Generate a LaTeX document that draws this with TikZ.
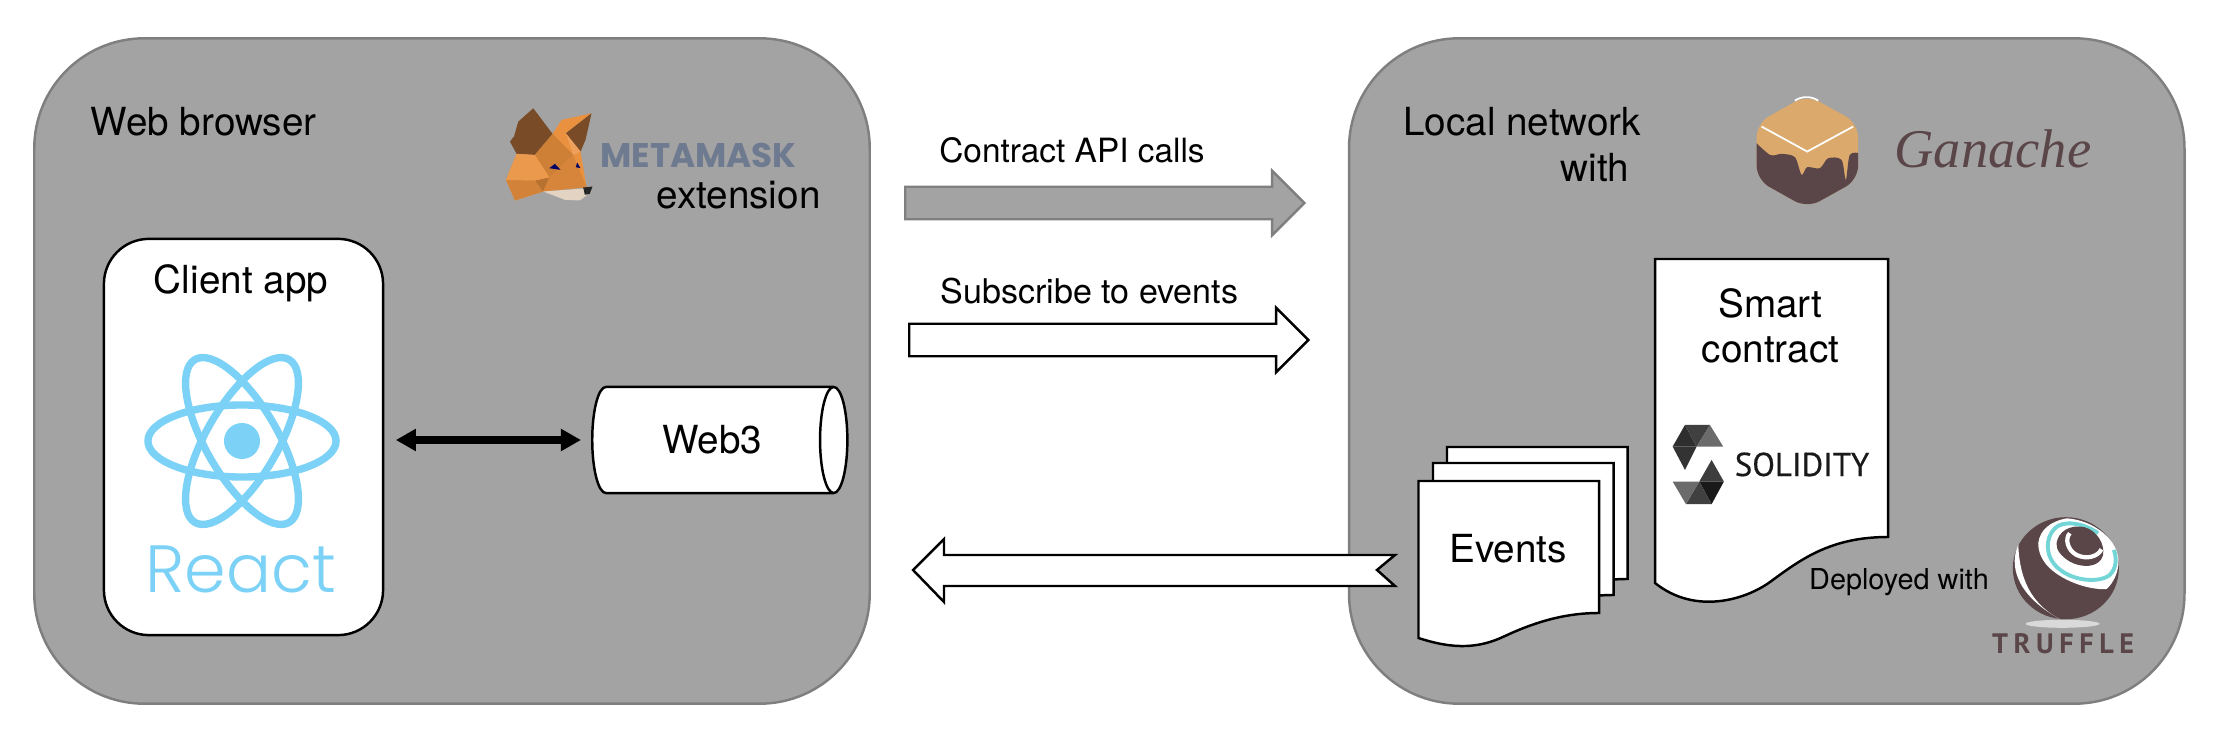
\documentclass[tikz,border=0pt]{standalone}
\usepackage{fontspec}
\usetikzlibrary{arrows.meta,positioning,shapes.geometric,shapes.arrows}
\setmainfont{TeX Gyre Heros}
\newfontfamily\mmfont{Poppins}
\newfontfamily\solfont{PT Sans}[FakeBold=0.4]
\newfontfamily\trufont{PT Sans}[LetterSpace=20]
\newfontfamily\reactfont{Poppins Light}
\newfontfamily\ganfont{Liberation Serif}
\definecolor{panelgray}{HTML}{A3A3A3}
\definecolor{paneledge}{HTML}{7F7F7F}
\definecolor{reactblue}{HTML}{7BD2F6}
\definecolor{choco}{HTML}{5A4549}
\definecolor{caramel}{HTML}{DBA96B}
\definecolor{foxorange}{HTML}{EA913F}
\definecolor{foxbrown}{HTML}{7A4B27}
\definecolor{maskgray}{HTML}{6E7A90}
\tikzset{
  panel/.style={draw=paneledge,fill=panelgray,line width=0.7pt,rounded corners=1.1cm,minimum width=8.35cm,minimum height=6.65cm},
  lbl/.style={inner sep=0pt,anchor=base,align=center,font=\fontsize{11}{13}\selectfont},
  smalllbl/.style={lbl,font=\fontsize{9.5}{11}\selectfont},
  docbox/.style={draw=black,fill=white,line width=0.7pt},
  blockarrow/.style={single arrow,line width=0.7pt,anchor=tail,inner sep=0.15cm,inner xsep=0pt,single arrow head extend=0.16cm},
  logo/.style 2 args={shift={(#1,#2)},x=0.00333cm,y=-0.00333cm}
}
\begin{document}
\begin{tikzpicture}[x=0.01cm,y=-0.01cm]
\useasboundingbox (0,0) rectangle (2224,746);

% the two panels
\node[panel] (browser) at (452,371) {};
\node[panel] (network) at (1766.75,371) {};
\node[lbl,anchor=base west] (browsertitle) at (90,136) {Web browser};
\node[lbl] (extension) at (738.5,209) {extension};
\node[lbl,anchor=base east] (networktitle) at (1642,136) {Local network};
\node[lbl,anchor=base east] (networkwith) at (1630,182) {with};

% client app and web3
\node[draw=black,fill=white,line width=0.7pt,rounded corners=0.45cm,minimum width=2.79cm,minimum height=3.96cm] (client) at (243.5,437) {};
\node[lbl] (clienttitle) at (241,294) {Client app};
\node[cylinder,anchor=west,draw=black,fill=white,line width=0.7pt,aspect=0.95,minimum width=1.06cm,minimum height=2.55cm,font=\fontsize{11}{13}\selectfont,inner sep=0pt] (web3) at (591,440) {Web3};
\draw[{Triangle[length=0.2cm,width=0.21cm]}-{Triangle[length=0.2cm,width=0.21cm]},line width=2pt,shorten >=0.1cm,shorten <=0.115cm] (web3.west -| client.east) -- (web3.west);

% react logo
\foreach \rot in {0,60,120}
  \draw[reactblue,line width=2.1pt,rotate around={\rot:(242,441)}] (242,441) ellipse[x radius=0.94cm,y radius=0.36cm];
\fill[reactblue] (242,441) circle[radius=0.18cm];
\node[lbl,text=reactblue,font=\reactfont\fontsize{19}{22}\selectfont] (react) at (241,592) {React};

% metamask logo
\begin{scope}[logo={490}{90}]
\fill[foxorange] (188,132) -- (215,90) -- (305,70) -- (228,130) -- (272,185) -- (290,292) -- (160,305) -- (75,332) -- (48,270) -- (80,192) -- (135,195) -- cycle;
\fill[foxbrown] (130,55) -- (188,132) -- (135,195) -- (80,192) -- (60,155) -- (72,140) -- (85,95) -- cycle;
\fill[foxbrown] (305,70) -- (287,150) -- (272,185) -- (228,130) -- cycle;
\fill[foxorange!88!black] (188,132) -- (250,195) -- (178,262) -- (135,195) -- cycle;
\fill[foxorange!90!black] (48,270) -- (135,272) -- (160,305) -- (75,332) -- cycle;
\fill[foxorange!78!black] (135,272) -- (180,262) -- (160,305) -- cycle;
\fill[foxorange!92!black] (178,262) -- (250,195) -- (290,292) -- (160,305) -- cycle;
\fill[foxorange!85!white] (215,90) -- (250,195) -- (272,185) -- (228,130) -- cycle;
\fill[foxorange!93!white] (135,195) -- (178,262) -- (135,272) -- (48,270) -- (80,192) -- cycle;
\fill[black!15!brown!30!white] (160,305) -- (282,296) -- (305,305) -- (270,332) -- (225,330) -- cycle;
\fill[black!85] (280,293) -- (308,290) -- (300,312) -- (285,315) -- cycle;
\fill[blue!40!black] (178,235) -- (195,222) -- (212,240) -- cycle;
\fill[blue!40!black] (258,232) -- (262,218) -- (272,235) -- cycle;
\end{scope}
\node[lbl,text=maskgray,font=\mmfont\bfseries\fontsize{9.7}{11}\selectfont] (metamask) at (698.5,168) {METAMASK};

% block arrows
\node[blockarrow,draw=paneledge,fill=panelgray,minimum height=3.99cm] (callarrow) at (904,203) {};
\node[smalllbl] (calllabel) at (1072,163) {Contract API calls};
\node[blockarrow,draw=black,fill=white,minimum height=3.99cm] (subarrow) at (908,340) {};
\node[smalllbl,font=\fontsize{9.68}{11}\selectfont] (sublabel) at (1089.5,304) {Subscribe to events};
\draw[docbox] (1395,555) -- (944,555) -- (944,539) -- (913,570) -- (944,602) -- (944,586) -- (1395,586) -- (1377,570) -- cycle;

% ganache logo
\begin{scope}[logo={1720}{80}]
\fill[caramel,rounded corners=4pt] (262,45) -- (415,130) -- (415,300) -- (262,385) -- (110,300) -- (110,130) -- cycle;
\begin{scope}
\clip[rounded corners=4pt] (262,45) -- (415,130) -- (415,300) -- (262,385) -- (110,300) -- (110,130) -- cycle;
\fill[choco] plot[smooth,tension=0.5] coordinates {(100,180) (150,225) (185,222) (225,232) (245,285) (262,262) (300,265) (325,235) (365,240) (378,300) (390,225) (420,220)} -- (420,400) -- (100,400) -- cycle;
\end{scope}
\draw[white,line width=0.5pt] (125,140) -- (262,215) -- (400,140);
\draw[white,line width=0.5pt] (225,62) .. controls (245,48) and (275,48) .. (295,62);
\end{scope}
\node[lbl,text=choco,font=\ganfont\itshape\fontsize{15.5}{18}\selectfont] (ganache) at (1993,168) {Ganache};

% smart contract
\draw[docbox] (1655,259) -- (1888,259) -- (1888,537) .. controls (1830,537) and (1800,560) .. (1770,582) .. controls (1745,600) and (1695,615) .. (1655,583) -- cycle;
\node[lbl] (contract) at (1770.5,363) {Smart\\contract};

% solidity logo
\begin{scope}[logo={1650}{410}]
\fill[black!82] (105,45) -- (68,110) -- (140,110) -- cycle;
\fill[black!75] (105,45) -- (180,45) -- (140,110) -- cycle;
\fill[black!58] (180,45) -- (220,110) -- (140,110) -- cycle;
\fill[black!80] (68,110) -- (140,110) -- (105,180) -- cycle;
\fill[black!76] (185,150) -- (222,215) -- (148,215) -- cycle;
\fill[black!90] (148,215) -- (222,215) -- (185,283) -- cycle;
\fill[black!75] (148,215) -- (185,283) -- (108,283) -- cycle;
\fill[black!58] (68,215) -- (148,215) -- (108,283) -- cycle;
\end{scope}
\node[lbl,text=black!90,font=\solfont\fontsize{9.4}{11}\selectfont] (solidity) at (1802,476) {SOLIDITY};

% events stack
\foreach \dx/\dy in {28.5/-34,14.5/-18,0/0}
  \draw[docbox,shift={(\dx,\dy)}] (1418.5,481) -- (1599,481) -- (1599,613) .. controls (1565,613) and (1535,622) .. (1505,636) .. controls (1480,648) and (1455,650) .. (1418.5,638) -- cycle;
\node[lbl] (events) at (1508,563) {Events};
\node[lbl,font=\fontsize{8.2}{10}\selectfont] (deployed) at (1899,589) {Deployed with};

% truffle logo
\begin{scope}[logo={1960}{500}]
\fill[black!15] (308,372) ellipse[x radius=0.37cm,y radius=0.04cm];
\fill[choco] (318,205) ellipse[x radius=0.53cm,y radius=0.51cm];
\fill[white] (175,135) .. controls (150,190) and (160,280) .. (300,358) .. controls (230,320) and (180,260) .. (175,135) -- cycle;
\fill[white] (235,130) .. controls (240,90) and (270,65) .. (320,55) .. controls (400,60) and (480,120) .. (476,190) .. controls (475,220) and (460,250) .. (440,268) .. controls (380,270) and (300,240) .. (260,195) .. controls (240,170) and (235,150) .. (235,130) -- cycle;
\draw[teal!60!cyan!55!white,line width=1.1pt] (415,100) .. controls (370,68) and (310,60) .. (285,85) .. controls (255,115) and (255,170) .. (295,205) .. controls (340,245) and (420,250) .. (450,225) .. controls (470,205) and (472,175) .. (462,150);
\fill[choco] (290,130) .. controls (295,95) and (330,72) .. (375,82) .. controls (410,92) and (435,130) .. (430,165) .. controls (420,205) and (365,205) .. (330,185) .. controls (305,170) and (288,150) .. (290,130) -- cycle;
\draw[white,line width=1.2pt] (330,100) .. controls (315,115) and (322,150) .. (350,165) .. controls (380,180) and (415,170) .. (425,148);
\end{scope}
\node[lbl,text=choco,font=\trufont\bfseries\fontsize{8}{10}\selectfont] (truffle) at (2063,653) {TRUFFLE};
\end{tikzpicture}
\end{document}
